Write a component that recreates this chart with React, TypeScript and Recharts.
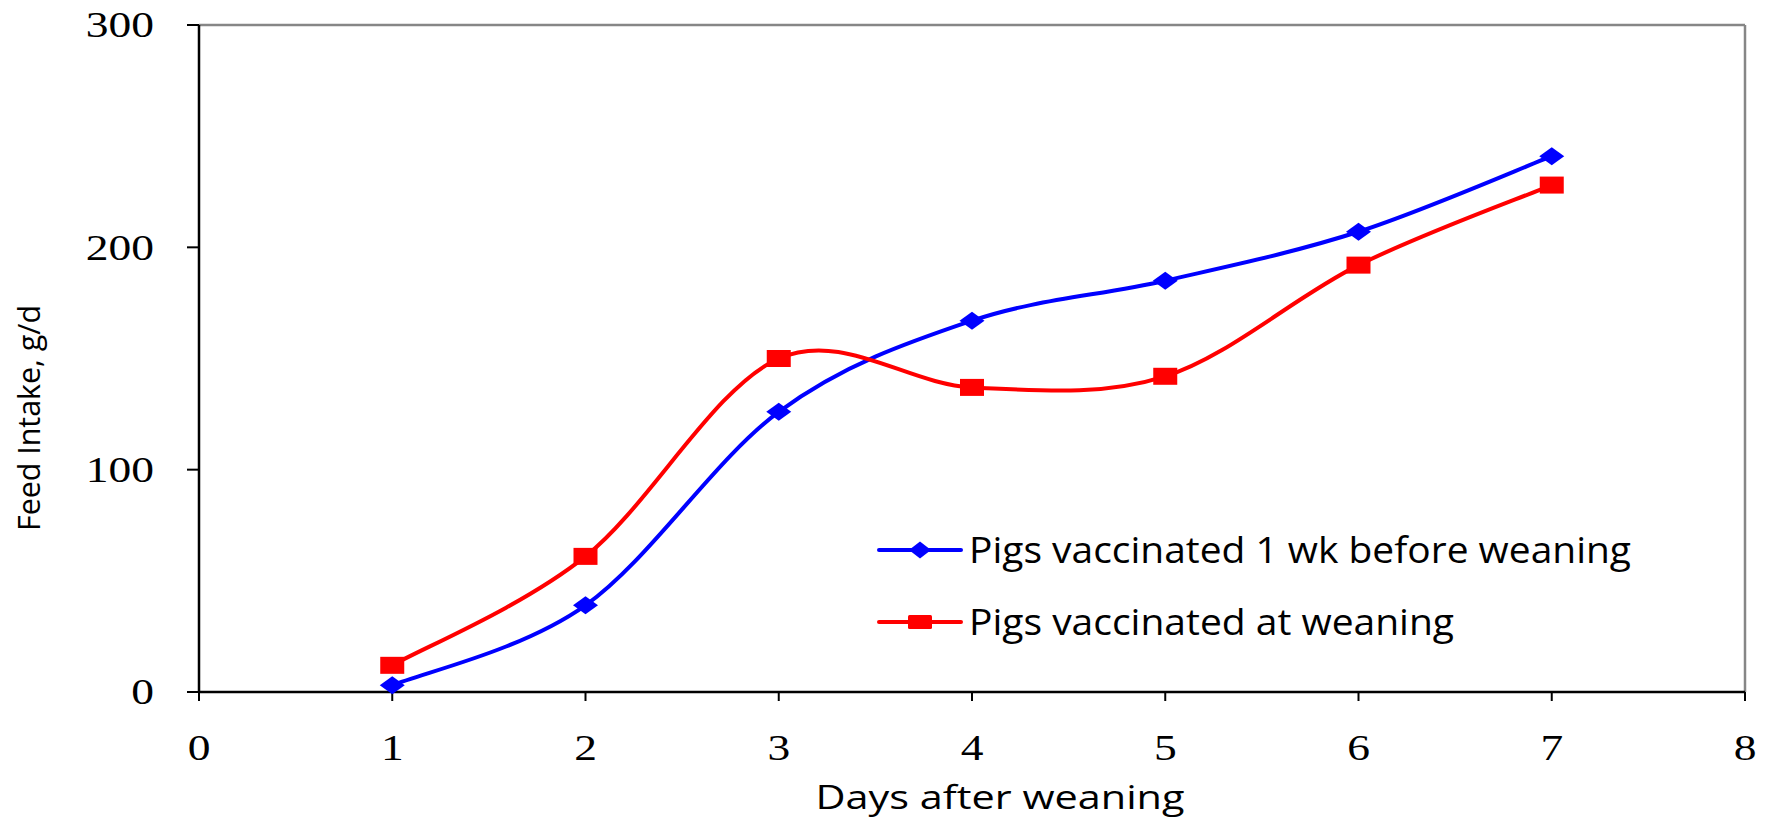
import { LineChart, Line, XAxis, YAxis, ReferenceLine } from 'recharts'

const days = [1, 2, 3, 4, 5, 6, 7]
const vaccinatedBefore = [3, 39, 126, 167, 185, 207, 241]
const vaccinatedAtWeaning = [12, 61, 150, 137, 142, 192, 228]
const xTicks = [0, 1, 2, 3, 4, 5, 6, 7, 8]
const yTicks = [0, 100, 200, 300]

const seriesNames = ['Pigs vaccinated 1 wk before weaning', 'Pigs vaccinated at weaning']

const data = days.map((d, i) => ({
  day: d,
  before: vaccinatedBefore[i],
  atWeaning: vaccinatedAtWeaning[i],
}))

// Excel-style smoothed line (Catmull-Rom style bezier)
function smoothCurve(context: any) {
  let pts: [number, number][] = []
  return {
    areaStart() {},
    areaEnd() {},
    lineStart() {
      pts = []
    },
    point(x: number, y: number) {
      pts.push([+x, +y])
    },
    lineEnd() {
      if (!pts.length) return
      context.moveTo(pts[0][0], pts[0][1])
      for (let i = 0; i < pts.length - 1; i++) {
        const p0 = pts[Math.max(0, i - 1)]
        const p1 = pts[i]
        const p2 = pts[i + 1]
        const p3 = pts[Math.min(pts.length - 1, i + 2)]
        context.bezierCurveTo(
          p1[0] + (p2[0] - p0[0]) / 6,
          p1[1] + (p2[1] - p0[1]) / 6,
          p2[0] - (p3[0] - p1[0]) / 6,
          p2[1] - (p3[1] - p1[1]) / 6,
          p2[0],
          p2[1]
        )
      }
    },
  }
}

const BLUE = '#0000ff'
const RED = '#ff0000'
const SANS = '"Open Sans", sans-serif'

const DiamondDot = (props: any) => {
  const { cx, cy, key } = props
  if (cx == null || cy == null) return <g key={key} />
  return (
    <path
      key={key}
      d={`M${cx - 12.5},${cy} L${cx},${cy - 9} L${cx + 12.5},${cy} L${cx},${cy + 9} Z`}
      fill={BLUE}
    />
  )
}

const SquareDot = (props: any) => {
  const { cx, cy, key } = props
  if (cx == null || cy == null) return <g key={key} />
  return <rect key={key} x={cx - 12} y={cy - 8.5} width={24} height={17} fill={RED} />
}

// serif tick labels, stretched a bit wider like the original
const XTick = (props: any) => {
  const { x, y, payload } = props
  return (
    <text
      transform={`translate(${x},${y}) scale(1.3,1)`}
      textAnchor="middle"
      dy="0.71em"
      fontFamily='"Liberation Serif", serif'
      fontSize={35}
      fill="#000"
    >
      {payload.value}
    </text>
  )
}

const YTick = (props: any) => {
  const { x, y, payload } = props
  return (
    <text
      transform={`translate(${x},${y}) scale(1.3,1)`}
      textAnchor="end"
      dy="0.355em"
      fontFamily='"Liberation Serif", serif'
      fontSize={35}
      fill="#000"
    >
      {payload.value}
    </text>
  )
}

function LegendBox() {
  const rows = [
    { name: seriesNames[0], color: BLUE, shape: 'diamond', len: 662 },
    { name: seriesNames[1], color: RED, shape: 'square', len: 485 },
  ]
  return (
    <svg style={{ position: 'absolute', left: 870, top: 520 }} width={800} height={140}>
      {rows.map((r, i) => {
        const cy = 30 + i * 72
        return (
          <g key={r.name}>
            <line x1={9} y1={cy} x2={91} y2={cy} stroke={r.color} strokeWidth={4} strokeLinecap="round" />
            {r.shape === 'diamond' ? (
              <path d={`M${39},${cy} L${50},${cy - 8.5} L${61},${cy} L${50},${cy + 8.5} Z`} fill={r.color} />
            ) : (
              <rect x={38} y={cy - 7} width={24} height={14} rx={1.5} fill={r.color} />
            )}
            <text
              x={99}
              y={cy}
              dy="0.36em"
              fontFamily={SANS}
              fontSize={36}
              fill="#000"
              textLength={r.len}
              lengthAdjust="spacingAndGlyphs"
            >
              {r.name}
            </text>
          </g>
        )
      })}
    </svg>
  )
}

export default function App() {
  return (
    <div style={{ position: 'relative', width: 1771, height: 819, background: '#fff' }}>
      <style>{'body{margin:0}'}</style>
      <LineChart width={1771} height={819} data={data} margin={{ top: 25, right: 26, left: 79, bottom: 27 }}>
        <XAxis
          dataKey="day"
          type="number"
          domain={[0, 8]}
          ticks={xTicks}
          interval={0}
          height={100}
          axisLine={{ stroke: '#000', strokeWidth: 2.5 }}
          tickLine={{ stroke: '#000', strokeWidth: 2 }}
          tickSize={9}
          tickMargin={34}
          tick={<XTick />}
          label={{
            content: (p: any) => {
              const vb = p.viewBox
              return (
                <text
                  x={vb.x + vb.width / 2 + 28}
                  y={809}
                  textAnchor="middle"
                  fontFamily={SANS}
                  fontSize={33}
                  fill="#000"
                  textLength={369}
                  lengthAdjust="spacingAndGlyphs"
                >
                  Days after weaning
                </text>
              )
            },
          }}
        />
        <YAxis
          type="number"
          domain={[0, 300]}
          ticks={yTicks}
          interval={0}
          width={120}
          axisLine={{ stroke: '#000', strokeWidth: 2.5 }}
          tickLine={{ stroke: '#000', strokeWidth: 2 }}
          tickSize={12}
          tickMargin={33}
          tick={<YTick />}
          label={{
            content: () => (
              <text
                x={0}
                y={0}
                transform="translate(40,418) rotate(-90)"
                textAnchor="middle"
                fontFamily={SANS}
                fontSize={31}
                fill="#000"
                textLength={226}
                lengthAdjust="spacingAndGlyphs"
              >
                Feed Intake, g/d
              </text>
            ),
          }}
        />
        <ReferenceLine y={300} stroke="#868686" strokeWidth={2.5} />
        <ReferenceLine x={8} stroke="#868686" strokeWidth={2.5} />
        <Line
          dataKey="before"
          name={seriesNames[0]}
          type={smoothCurve as any}
          stroke={BLUE}
          strokeWidth={4}
          dot={DiamondDot}
          activeDot={false}
          isAnimationActive={false}
        />
        <Line
          dataKey="atWeaning"
          name={seriesNames[1]}
          type={smoothCurve as any}
          stroke={RED}
          strokeWidth={4}
          dot={SquareDot}
          activeDot={false}
          isAnimationActive={false}
        />
      </LineChart>
      <LegendBox />
    </div>
  )
}
